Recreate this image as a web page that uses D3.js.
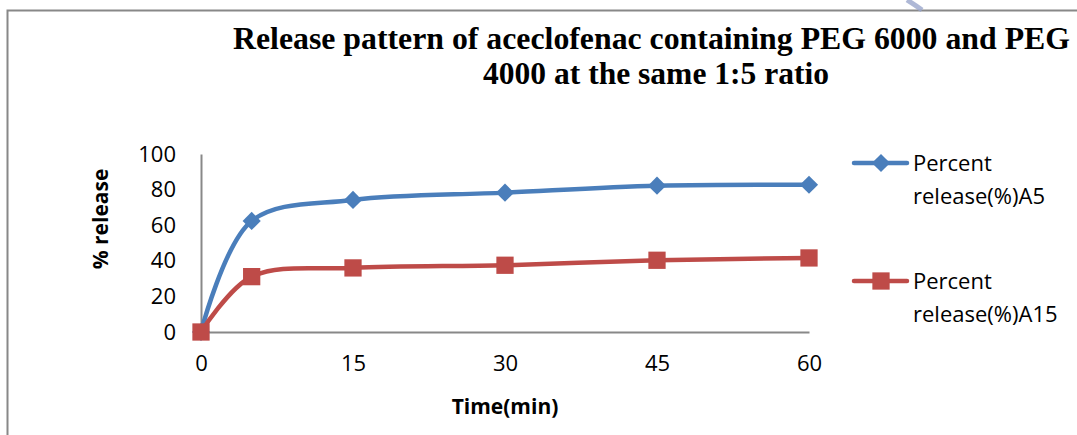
<!DOCTYPE html>
<html>
<head>
<meta charset="utf-8">
<script src="https://cdn.jsdelivr.net/npm/d3@7"></script>
<style>
  html, body { margin: 0; padding: 0; background: #fff; }
  svg { display: block; }
</style>
</head>
<body>
<svg id="chart" width="1077" height="435"></svg>
<script>
// Sampling times (min) and cumulative release (%) for the two formulations
const times = [0, 5, 15, 30, 45, 60];
const releaseA5 = [0, 62.4, 74.2, 78.3, 82.2, 82.7];
const releaseA15 = [0, 31.1, 36.0, 37.5, 40.3, 41.6];
const xTicks = [0, 15, 30, 45, 60];
const yTicks = [0, 20, 40, 60, 80, 100];
const seriesNames = ["Percent release(%)A5", "Percent release(%)A15"];

const svg = d3.select("#chart");
const labelFont = "'Open Sans', Lato, 'Liberation Sans', sans-serif";
const labelSize = 22;
const titleSize = 21;

// Frame lines
svg.append("path")
  .attr("d", "M7.5,435 V10.5 H1077")
  .attr("fill", "none").attr("stroke", "#888").attr("stroke-width", 2);

// faint decorative stroke at top right
svg.append("path")
  .attr("d", "M907,0 Q915,5 922,10")
  .attr("fill", "none").attr("stroke", "#9aa6cc").attr("stroke-width", 5).attr("opacity", 0.8);

// Title
const title = svg.append("g")
  .attr("font-family", "'Liberation Serif', 'Times New Roman', serif")
  .attr("font-weight", "bold").attr("font-size", 31).attr("fill", "#000");
title.append("text").attr("x", 233).attr("y", 49)
  .attr("textLength", 837).attr("lengthAdjust", "spacingAndGlyphs")
  .text("Release pattern of aceclofenac containing PEG 6000 and PEG");
title.append("text").attr("x", 483).attr("y", 84)
  .attr("textLength", 346).attr("lengthAdjust", "spacingAndGlyphs")
  .text("4000 at the same 1:5 ratio");

// Scales
const x = d3.scaleLinear().domain([0, 60]).range([201, 809]);
const y = d3.scaleLinear().domain([0, 100]).range([332, 154]);

// Axes (lines only, no tick marks)
const xAxis = svg.append("g").attr("transform", `translate(0,${y(0)})`)
  .call(d3.axisBottom(x).tickValues(xTicks).tickSize(0).tickPadding(28).tickFormat(d3.format("d")));
const yAxis = svg.append("g").attr("transform", `translate(${x(0)},0)`)
  .call(d3.axisLeft(y).tickValues(yTicks).tickSize(0).tickPadding(25).tickFormat(d3.format("d")));
[xAxis, yAxis].forEach(g => {
  g.select(".domain").attr("stroke", "#888").attr("stroke-width", 2);
  g.selectAll("text").attr("font-family", labelFont).attr("font-size", labelSize).attr("fill", "#000");
});
xAxis.selectAll("text").attr("dy", "0.5em");

// Axis titles
svg.append("text").attr("x", 505).attr("y", 414).attr("text-anchor", "middle")
  .attr("font-family", labelFont).attr("font-weight", "bold").attr("font-size", titleSize)
  .text("Time(min)");
svg.append("text").attr("transform", "translate(108,219) rotate(-90)").attr("text-anchor", "middle")
  .attr("font-family", labelFont).attr("font-weight", "bold").attr("font-size", titleSize)
  .text("% release");

// Series
const series = [
  { name: seriesNames[0], values: releaseA5, color: "#4a7ebb", symbol: d3.symbolDiamond2, size: 210 },
  { name: seriesNames[1], values: releaseA15, color: "#be4b48", symbol: d3.symbolSquare2, size: 380 }
];

const line = d3.line()
  .x((d, i) => x(times[i]))
  .y(d => y(d))
  .curve(d3.curveCatmullRom.alpha(0.5));

series.forEach(s => {
  svg.append("path").datum(s.values)
    .attr("d", line)
    .attr("fill", "none").attr("stroke", s.color).attr("stroke-width", 4.5)
    .attr("stroke-linecap", "round");
});
series.forEach(s => {
  const sym = d3.symbol().type(s.symbol).size(s.size);
  svg.append("g").selectAll("path").data(s.values).join("path")
    .attr("transform", (d, i) => `translate(${x(times[i])},${y(d)})`)
    .attr("d", sym)
    .attr("fill", s.color);
});

// Legend
const legendRows = [163, 281];
series.forEach((s, i) => {
  const g = svg.append("g").attr("transform", `translate(0,${legendRows[i]})`);
  g.append("line").attr("x1", 854).attr("x2", 907).attr("y1", 0).attr("y2", 0)
    .attr("stroke", s.color).attr("stroke-width", 4.5).attr("stroke-linecap", "round");
  g.append("path").attr("transform", "translate(881,0)")
    .attr("d", d3.symbol().type(s.symbol).size(s.size)())
    .attr("fill", s.color);
  const words = s.name.split(" ");
  const t = g.append("text").attr("font-family", labelFont).attr("font-size", labelSize).attr("fill", "#000");
  t.append("tspan").attr("x", 913).attr("y", 8).text(words[0]);
  t.append("tspan").attr("x", 913).attr("y", 41).text(words.slice(1).join(" "));
});
</script>
</body>
</html>
